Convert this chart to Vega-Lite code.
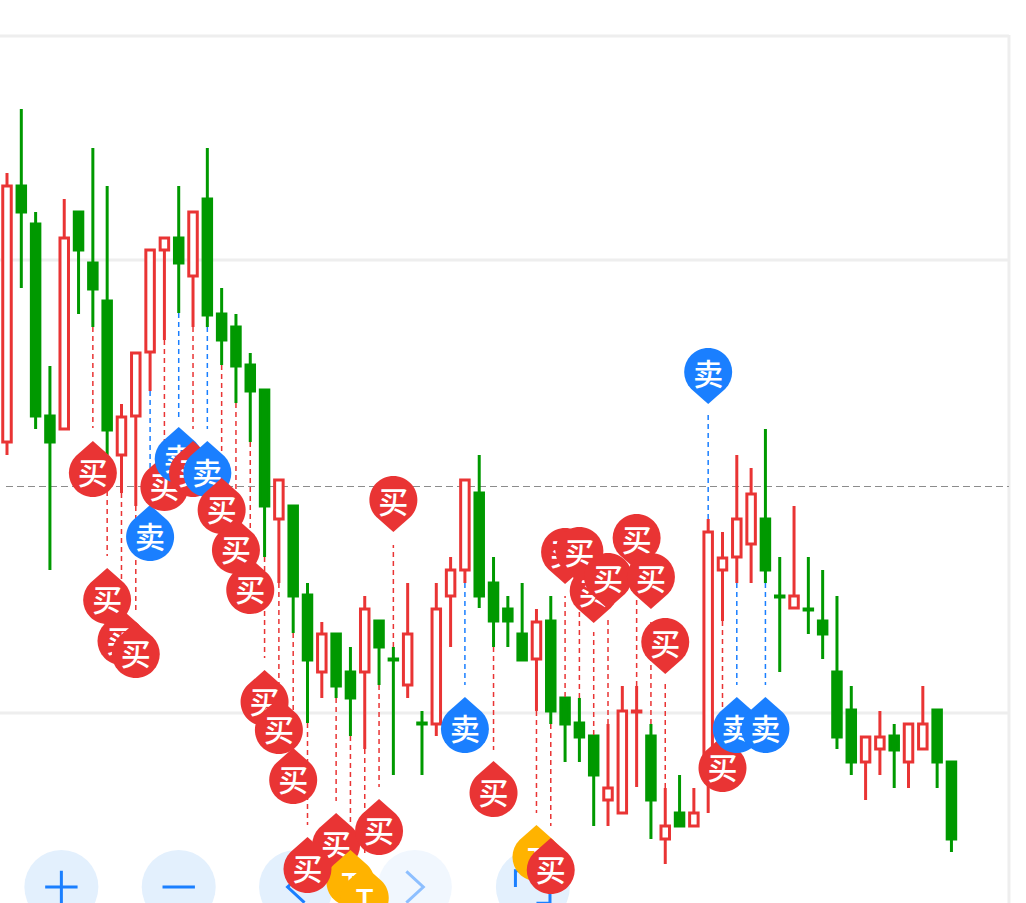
{
"$schema":"https://vega.github.io/schema/vega-lite/v6.json",
"width":1026,"height":903,"autosize":{"type":"none"},"padding":0,
"background":"#ffffff","view":{"stroke":null},
"datasets":{
"grid":[{"i":-0.49,"i2":70.02,"p":867},{"i":-0.49,"i2":70.02,"p":643},{"i":-0.49,"i2":70.02,"p":190}],
"border":[{"i":70.02,"p":868,"p2":0}],
"ref":[{"i":-0.07,"i2":70.02,"p":416.5}],
"buttons":[{"i":3.8,"p":16,"icon":"plus","state":"on"},{"i":12,"p":16,"icon":"minus","state":"on"},{"i":20.2,"p":16,"icon":"left","state":"on"},{"i":28.5,"p":16,"icon":"right","state":"off"},{"i":36.75,"p":16,"icon":"full","state":"on"}],
"candles":[
{"i":0,"dir":"up","high":730,"top":717,"bottom":461,"low":448},
{"i":1,"dir":"down","high":794,"top":717,"bottom":691,"low":615},
{"i":2,"dir":"down","high":691,"top":679,"bottom":487,"low":474},
{"i":3,"dir":"down","high":537,"top":487,"bottom":461,"low":333},
{"i":4,"dir":"up","high":704,"top":665,"bottom":474,"low":473},
{"i":5,"dir":"down","high":692,"top":691,"bottom":653,"low":589},
{"i":6,"dir":"down","high":755,"top":640,"bottom":614,"low":576},
{"i":7,"dir":"down","high":717,"top":602,"bottom":473,"low":448},
{"i":8,"dir":"up","high":499,"top":486,"bottom":448,"low":410},
{"i":9,"dir":"up","high":551,"top":550,"bottom":487,"low":397},
{"i":10,"dir":"up","high":654,"top":653,"bottom":551,"low":512},
{"i":11,"dir":"up","high":666,"top":665,"bottom":653,"low":563},
{"i":12,"dir":"down","high":717,"top":665,"bottom":640,"low":590},
{"i":13,"dir":"up","high":692,"top":691,"bottom":627,"low":576},
{"i":14,"dir":"down","high":755,"top":704,"bottom":588,"low":576},
{"i":15,"dir":"down","high":615,"top":589,"bottom":563,"low":538},
{"i":16,"dir":"down","high":589,"top":576,"bottom":537,"low":500},
{"i":17,"dir":"down","high":550,"top":538,"bottom":512,"low":461},
{"i":18,"dir":"down","high":514,"top":513,"bottom":397,"low":346},
{"i":19,"dir":"up","high":424,"top":423,"bottom":384,"low":320},
{"i":20,"dir":"down","high":398,"top":397,"bottom":307,"low":270},
{"i":21,"dir":"down","high":320,"top":308,"bottom":243,"low":180},
{"i":22,"dir":"up","high":281,"top":269,"bottom":231,"low":205},
{"i":23,"dir":"down","high":270,"top":269,"bottom":217,"low":205},
{"i":24,"dir":"down","high":256,"top":231,"bottom":205,"low":167},
{"i":25,"dir":"up","high":307,"top":294,"bottom":231,"low":154},
{"i":26,"dir":"down","high":283,"top":282,"bottom":256,"low":218},
{"i":27,"dir":"down","high":256,"top":244,"bottom":243,"low":128},
{"i":28,"dir":"up","high":320,"top":269,"bottom":218,"low":205},
{"i":29,"dir":"down","high":192,"top":180,"bottom":179,"low":128},
{"i":30,"dir":"up","high":320,"top":294,"bottom":179,"low":167},
{"i":31,"dir":"up","high":346,"top":333,"bottom":307,"low":256},
{"i":32,"dir":"up","high":424,"top":423,"bottom":333,"low":320},
{"i":33,"dir":"down","high":448,"top":410,"bottom":307,"low":295},
{"i":34,"dir":"down","high":346,"top":320,"bottom":282,"low":256},
{"i":35,"dir":"down","high":307,"top":294,"bottom":282,"low":256},
{"i":36,"dir":"down","high":320,"top":269,"bottom":243,"low":242},
{"i":37,"dir":"up","high":294,"top":281,"bottom":244,"low":192},
{"i":38,"dir":"down","high":307,"top":282,"bottom":192,"low":179},
{"i":39,"dir":"down","high":206,"top":205,"bottom":179,"low":141},
{"i":40,"dir":"down","high":205,"top":180,"bottom":166,"low":141},
{"i":41,"dir":"down","high":168,"top":167,"bottom":128,"low":77},
{"i":42,"dir":"up","high":179,"top":115,"bottom":103,"low":77},
{"i":43,"dir":"up","high":217,"top":192,"bottom":90,"low":89},
{"i":44,"dir":"up","high":217,"top":192,"bottom":191,"low":116},
{"i":45,"dir":"down","high":179,"top":167,"bottom":103,"low":64},
{"i":46,"dir":"up","high":115,"top":77,"bottom":64,"low":39},
{"i":47,"dir":"down","high":128,"top":90,"bottom":77,"low":76},
{"i":48,"dir":"up","high":115,"top":90,"bottom":77,"low":76},
{"i":49,"dir":"up","high":384,"top":371,"bottom":142,"low":90},
{"i":50,"dir":"up","high":371,"top":345,"bottom":333,"low":282},
{"i":51,"dir":"up","high":448,"top":384,"bottom":346,"low":320},
{"i":52,"dir":"up","high":435,"top":409,"bottom":359,"low":320},
{"i":53,"dir":"down","high":474,"top":384,"bottom":333,"low":320},
{"i":54,"dir":"down","high":346,"top":307,"bottom":306,"low":231},
{"i":55,"dir":"up","high":397,"top":307,"bottom":295,"low":294},
{"i":56,"dir":"down","high":346,"top":294,"bottom":293,"low":269},
{"i":57,"dir":"down","high":333,"top":282,"bottom":269,"low":244},
{"i":58,"dir":"down","high":307,"top":231,"bottom":166,"low":154},
{"i":59,"dir":"down","high":217,"top":193,"bottom":141,"low":128},
{"i":60,"dir":"up","high":167,"top":166,"bottom":141,"low":103},
{"i":61,"dir":"up","high":192,"top":166,"bottom":154,"low":128},
{"i":62,"dir":"down","high":179,"top":167,"bottom":153,"low":115},
{"i":63,"dir":"up","high":180,"top":179,"bottom":141,"low":115},
{"i":64,"dir":"up","high":217,"top":179,"bottom":154,"low":153},
{"i":65,"dir":"down","high":194,"top":193,"bottom":141,"low":115},
{"i":66,"dir":"down","high":142,"top":141,"bottom":64,"low":51}
],
"markers":[
{"i":6,"p":430,"label":"买","tip":"up","from":576,"to":475,"z":0},
{"i":7,"p":303,"label":"买","tip":"up","from":448,"to":347,"z":0},
{"i":8,"p":262,"label":"买","tip":"up","from":410,"to":306,"z":1},
{"i":9,"p":249,"label":"买","tip":"up","from":397,"to":293,"z":2},
{"i":10,"p":366,"label":"卖","tip":"up","from":512,"to":410,"z":0},
{"i":11,"p":416,"label":"买","tip":"up","from":563,"to":460,"z":0},
{"i":12,"p":444,"label":"卖","tip":"up","from":590,"to":486,"z":1},
{"i":13,"p":430,"label":"买","tip":"up","from":576,"to":474,"z":2},
{"i":14,"p":430,"label":"卖","tip":"up","from":576,"to":474,"z":3},
{"i":15,"p":393,"label":"买","tip":"up","from":538,"to":437,"z":4},
{"i":16,"p":353,"label":"买","tip":"up","from":500,"to":397,"z":5},
{"i":17,"p":313,"label":"买","tip":"up","from":461,"to":357,"z":6},
{"i":18,"p":201,"label":"买","tip":"up","from":346,"to":245,"z":0},
{"i":19,"p":173,"label":"买","tip":"up","from":320,"to":217,"z":1},
{"i":20,"p":123,"label":"买","tip":"up","from":270,"to":167,"z":2},
{"i":21,"p":34,"label":"买","tip":"up","from":180,"to":78,"z":2},
{"i":23,"p":58,"label":"买","tip":"up","from":205,"to":102,"z":0},
{"i":24,"p":21,"label":"T","tip":"up","from":167,"to":65,"z":1},
{"i":25,"p":5,"label":"T","tip":"up","from":154,"to":49,"z":2},
{"i":26,"p":72,"label":"买","tip":"up","from":218,"to":116,"z":1},
{"i":27,"p":403,"label":"买","tip":"down","from":256,"to":358,"z":0},
{"i":32,"p":174,"label":"卖","tip":"up","from":320,"to":218,"z":0},
{"i":34,"p":110,"label":"买","tip":"up","from":256,"to":153,"z":0},
{"i":37,"p":46,"label":"T","tip":"up","from":192,"to":90,"z":0},
{"i":38,"p":33,"label":"买","tip":"up","from":179,"to":77,"z":1},
{"i":39,"p":351,"label":"买","tip":"down","from":206,"to":307,"z":0},
{"i":40,"p":352,"label":"买","tip":"down","from":205,"to":308,"z":1},
{"i":41,"p":312,"label":"买","tip":"down","from":168,"to":271,"z":0},
{"i":42,"p":326,"label":"买","tip":"down","from":179,"to":285,"z":2},
{"i":44,"p":365,"label":"买","tip":"down","from":217,"to":321,"z":1},
{"i":45,"p":326,"label":"买","tip":"down","from":179,"to":281,"z":3},
{"i":46,"p":261,"label":"买","tip":"down","from":115,"to":220,"z":0},
{"i":49,"p":531,"label":"卖","tip":"down","from":384,"to":489,"z":0},
{"i":50,"p":135,"label":"买","tip":"up","from":282,"to":179,"z":0},
{"i":51,"p":174,"label":"卖","tip":"up","from":320,"to":218,"z":1},
{"i":53,"p":174,"label":"卖","tip":"up","from":320,"to":218,"z":2}
]
},
"encoding":{
"x":{"field":"i","type":"quantitative","axis":null,"scale":{"domain":[-0.489,71.21],"nice":false,"zero":false,"padding":0}},
"y":{"field":"p","type":"quantitative","axis":null,"scale":{"domain":[0,903],"nice":false,"zero":false}}
},
"layer":[
{"data":{"name":"grid"},"mark":{"type":"rule","stroke":"#eeeeee","strokeWidth":3},"encoding":{"x2":{"field":"i2"}}},
{"data":{"name":"border"},"mark":{"type":"rule","stroke":"#eeeeee","strokeWidth":3},"encoding":{"y2":{"field":"p2"}}},
{"data":{"name":"ref"},"mark":{"type":"rule","stroke":"#8c8c8c","strokeWidth":1,"strokeDash":[7,4]},"encoding":{"x2":{"field":"i2"}}},
{"data":{"name":"buttons"},"mark":{"type":"point","shape":"circle","filled":true,"size":5476,"opacity":1,"strokeWidth":0},"encoding":{"fill":{"field":"state","type":"nominal","legend":null,"scale":{"domain":["on","off","up","down","买","卖","T"],"range":["#e3f0fd","#f1f7fe","#ffffff","#009900","#e93434","#1a7fff","#ffb300"]}}}},
{"data":{"name":"buttons"},"mark":{"type":"point","filled":false,"size":1296,"opacity":1,"strokeWidth":3},"encoding":{
"shape":{"field":"icon","type":"nominal","legend":null,"scale":{"domain":["plus","minus","left","right","full","up","down"],"range":["M-0.9,0L0.9,0M0,-0.9L0,0.9","M-0.9,0L0.9,0","M0.47,-0.87L-0.47,0L0.47,0.87","M-0.47,-0.87L0.47,0L-0.47,0.87","M-0.2,-0.9L-0.97,-0.9L-0.97,0M0.2,0.9L0.95,0.9L0.95,0","M0,-1L-0.53,-0.53A0.75,0.75 0 1 0 0.53,-0.53Z","M0,1L-0.53,0.53A0.75,0.75 0 1 1 0.53,0.53Z"]}},
"stroke":{"field":"state","type":"nominal","legend":null,"scale":{"domain":["on","off","up","down","买","卖","T"],"range":["#1a7fff","#8dbfff","#e93434","#009900","#e93434","#1a7fff","#e93434"]}}}},
{"data":{"name":"candles"},"mark":{"type":"rule","strokeWidth":3},"encoding":{"y":{"field":"high","type":"quantitative"},"y2":{"field":"low"},
"stroke":{"field":"dir","type":"nominal","legend":null}}},
{"data":{"name":"candles"},"mark":{"type":"bar","width":8.5,"strokeWidth":3},"encoding":{"y":{"field":"top","type":"quantitative"},"y2":{"field":"bottom"},
"fill":{"field":"dir","type":"nominal","legend":null},
"stroke":{"field":"dir","type":"nominal","legend":null}}},
{"data":{"name":"markers"},"mark":{"type":"rule","strokeWidth":1.5,"strokeDash":[5,4]},"encoding":{"y":{"field":"from","type":"quantitative"},"y2":{"field":"to"},
"stroke":{"field":"label","type":"nominal","legend":null}}},

{"data":{"name":"markers"},"transform":[{"filter":"datum.z==0"}],"mark":{"type":"point","filled":true,"size":4096,"opacity":1,"strokeWidth":0},"encoding":{"shape":{"field":"tip","type":"nominal","legend":null},"fill":{"field":"label","type":"nominal","legend":null}}},
{"data":{"name":"markers"},"transform":[{"filter":"datum.z==0"}],"mark":{"type":"text","font":"Noto Sans CJK SC","fontSize":30,"fontWeight":500,"fill":"#ffffff","baseline":"middle","align":"center","dy":{"expr":"datum.label=='T'?4:datum.tip=='down'?4:1.5"}},"encoding":{"text":{"field":"label"}}},
{"data":{"name":"markers"},"transform":[{"filter":"datum.z==1"}],"mark":{"type":"point","filled":true,"size":4096,"opacity":1,"strokeWidth":0},"encoding":{"shape":{"field":"tip","type":"nominal","legend":null},"fill":{"field":"label","type":"nominal","legend":null}}},
{"data":{"name":"markers"},"transform":[{"filter":"datum.z==1"}],"mark":{"type":"text","font":"Noto Sans CJK SC","fontSize":30,"fontWeight":500,"fill":"#ffffff","baseline":"middle","align":"center","dy":{"expr":"datum.label=='T'?4:datum.tip=='down'?4:1.5"}},"encoding":{"text":{"field":"label"}}},
{"data":{"name":"markers"},"transform":[{"filter":"datum.z==2"}],"mark":{"type":"point","filled":true,"size":4096,"opacity":1,"strokeWidth":0},"encoding":{"shape":{"field":"tip","type":"nominal","legend":null},"fill":{"field":"label","type":"nominal","legend":null}}},
{"data":{"name":"markers"},"transform":[{"filter":"datum.z==2"}],"mark":{"type":"text","font":"Noto Sans CJK SC","fontSize":30,"fontWeight":500,"fill":"#ffffff","baseline":"middle","align":"center","dy":{"expr":"datum.label=='T'?4:datum.tip=='down'?4:1.5"}},"encoding":{"text":{"field":"label"}}},
{"data":{"name":"markers"},"transform":[{"filter":"datum.z==3"}],"mark":{"type":"point","filled":true,"size":4096,"opacity":1,"strokeWidth":0},"encoding":{"shape":{"field":"tip","type":"nominal","legend":null},"fill":{"field":"label","type":"nominal","legend":null}}},
{"data":{"name":"markers"},"transform":[{"filter":"datum.z==3"}],"mark":{"type":"text","font":"Noto Sans CJK SC","fontSize":30,"fontWeight":500,"fill":"#ffffff","baseline":"middle","align":"center","dy":{"expr":"datum.label=='T'?4:datum.tip=='down'?4:1.5"}},"encoding":{"text":{"field":"label"}}},
{"data":{"name":"markers"},"transform":[{"filter":"datum.z==4"}],"mark":{"type":"point","filled":true,"size":4096,"opacity":1,"strokeWidth":0},"encoding":{"shape":{"field":"tip","type":"nominal","legend":null},"fill":{"field":"label","type":"nominal","legend":null}}},
{"data":{"name":"markers"},"transform":[{"filter":"datum.z==4"}],"mark":{"type":"text","font":"Noto Sans CJK SC","fontSize":30,"fontWeight":500,"fill":"#ffffff","baseline":"middle","align":"center","dy":1.5},"encoding":{"text":{"field":"label"}}},
{"data":{"name":"markers"},"transform":[{"filter":"datum.z==5"}],"mark":{"type":"point","filled":true,"size":4096,"opacity":1,"strokeWidth":0},"encoding":{"shape":{"field":"tip","type":"nominal","legend":null},"fill":{"field":"label","type":"nominal","legend":null}}},
{"data":{"name":"markers"},"transform":[{"filter":"datum.z==5"}],"mark":{"type":"text","font":"Noto Sans CJK SC","fontSize":30,"fontWeight":500,"fill":"#ffffff","baseline":"middle","align":"center","dy":1.5},"encoding":{"text":{"field":"label"}}},
{"data":{"name":"markers"},"transform":[{"filter":"datum.z==6"}],"mark":{"type":"point","filled":true,"size":4096,"opacity":1,"strokeWidth":0},"encoding":{"shape":{"field":"tip","type":"nominal","legend":null},"fill":{"field":"label","type":"nominal","legend":null}}},
{"data":{"name":"markers"},"transform":[{"filter":"datum.z==6"}],"mark":{"type":"text","font":"Noto Sans CJK SC","fontSize":30,"fontWeight":500,"fill":"#ffffff","baseline":"middle","align":"center","dy":1.5},"encoding":{"text":{"field":"label"}}}
]
}
